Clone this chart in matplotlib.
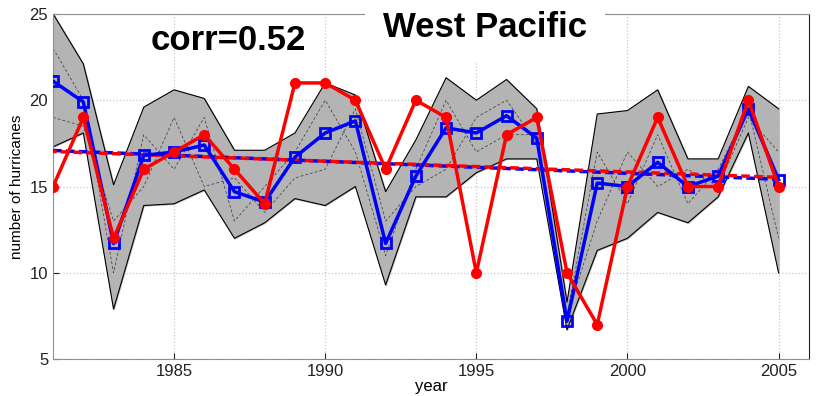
import numpy as np
import matplotlib
matplotlib.use("Agg")
import matplotlib.pyplot as plt

plt.rcParams["font.family"] = ["Liberation Sans", "DejaVu Sans"]

years = list(range(1981, 2006))

observed = [15, 19, 12, 16, 17, 18, 16, 14, 21, 21, 20, 16, 20, 19, 10,
            18, 19, 10, 7, 15, 19, 15, 15, 20, 15]

ens_mean = [21.1, 19.9, 11.7, 16.8, 17.0, 17.4, 14.7, 14.1, 16.7, 18.1,
            18.8, 11.7, 15.6, 18.4, 18.1, 19.1, 17.8, 7.2, 15.2, 15.0,
            16.4, 15.0, 15.6, 19.5, 15.4]

ens_max = [25.0, 22.1, 15.1, 19.6, 20.6, 20.1, 17.1, 17.1, 18.1, 21.0,
           20.3, 14.7, 17.7, 21.3, 20.0, 21.2, 19.5, 8.3, 19.2, 19.4,
           20.6, 16.6, 16.6, 20.8, 19.5]

ens_min = [17.3, 18.1, 7.9, 13.9, 14.0, 14.8, 12.0, 12.9, 14.3, 13.9,
           15.0, 9.3, 14.4, 14.4, 15.8, 16.6, 16.6, 6.7, 11.3, 12.0,
           13.5, 12.9, 14.4, 18.1, 10.0]

member_a = [23.0, 20.0, 10.0, 18.0, 16.0, 19.0, 13.0, 15.0, 17.0, 20.0,
            17.0, 11.0, 16.0, 20.0, 17.0, 18.0, 18.0, 7.5, 17.0, 14.0,
            18.0, 14.0, 16.0, 19.5, 12.0]

member_b = [19.0, 18.5, 13.0, 15.0, 19.0, 15.0, 15.5, 13.5, 15.5, 16.0,
            19.5, 13.0, 15.0, 16.0, 19.0, 20.0, 17.5, 7.5, 13.0, 17.0,
            15.0, 16.0, 15.0, 19.0, 17.0]

corr_text = "corr=0.52"
region = "West Pacific"

fig = plt.figure(figsize=(8.17, 3.96), dpi=100)
ax = fig.add_axes([0.065, 0.093, 0.925, 0.872])

# ensemble spread
ax.fill_between(years, ens_min, ens_max, color="#b4b4b4", zorder=1)
ax.plot(years, ens_max, color="black", lw=0.8, zorder=2)
ax.plot(years, ens_min, color="black", lw=0.8, zorder=2)
for m in (member_a, member_b):
    ax.plot(years, m, color="#333333", lw=0.5, ls=(0, (4, 3)), zorder=2)

# linear trends
yr = np.array(years)
p_mean = np.polyfit(yr, ens_mean, 1)
p_obs = np.polyfit(yr, observed, 1)
ax.plot(yr, np.polyval(p_mean, yr), color="blue", lw=2.5, ls=(0, (2.5, 1.2)), zorder=3)
ax.plot(yr, np.polyval(p_obs, yr), color="red", lw=2.5, ls=(1.5, (2.5, 1.2)), zorder=3)

ax.plot(years, ens_mean, color="blue", lw=2.5, marker="s", ms=7,
        mfc="none", mew=2, zorder=4)
ax.plot(years, observed, color="red", lw=2.5, marker="o", ms=7,
        mec="red", zorder=5)

ax.set_xlim(1981, 2006)
ax.set_ylim(5, 25)
ax.set_xticks([1985, 1990, 1995, 2000, 2005])
ax.set_yticks([5, 10, 15, 20, 25])
ax.grid(True, color="#c8c8c8", ls=":", lw=0.9)
ax.set_axisbelow(True)
ax.tick_params(direction="in", labelsize=12, colors="#222222", length=4)
for side in ("left", "bottom", "top"):
    ax.spines[side].set_color("#909090")
ax.spines["right"].set_color("#202020")

ax.set_xlabel("year", fontsize=12, labelpad=0)
ax.set_ylabel("number of hurricanes", fontsize=11, labelpad=4)

fig.text(0.5936, 0.931, region, fontsize=25, fontweight="bold", ha="center",
         va="center", bbox=dict(facecolor="white", edgecolor="none", pad=13),
         zorder=10)
fig.text(0.279, 0.898, corr_text, fontsize=25, fontweight="bold",
         ha="center", va="center", zorder=10)

fig.savefig("out.png", dpi=100)
